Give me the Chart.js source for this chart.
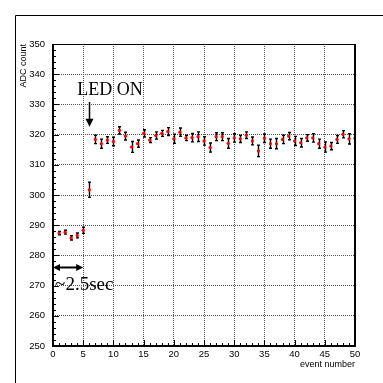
<!DOCTYPE html>
<html>
<head>
<meta charset="utf-8">
<script src="https://cdn.jsdelivr.net/npm/chart.js@4/dist/chart.umd.min.js"></script>
<style>
html,body{margin:0;padding:0;background:#fff;}
canvas{display:block;}
</style>
</head>
<body>
<canvas id="c" width="383" height="383"></canvas>
<script>
// ---- data ----
const eventNumbers = [1,2,3,4,5,6,7,8,9,10,11,12,13,14,15,16,17,18,19,20,21,22,23,24,25,26,27,28,29,30,31,32,33,34,35,36,37,38,39,40,41,42,43,44,45,46,47,48,49,50];
const adcValues = [287.4,287.7,285.8,286.6,288.3,301.7,
  318.4,317.0,318.2,317.7,321.4,319.5,315.9,317.0,320.4,318.2,319.7,320.4,321.0,318.6,
  320.8,318.9,319.0,319.3,317.9,315.7,319.3,319.3,317.1,318.9,318.6,319.8,317.9,314.6,318.8,
  317.0,317.0,318.4,319.5,317.9,317.3,318.9,318.9,317.0,315.9,316.2,318.4,320.1,318.6,318.8];
const adcErrors = [0.55,0.65,0.7,0.8,1.0,2.5,
  1.4,1.5,1.1,1.4,1.2,1.3,1.8,1.2,1.2,0.8,1.2,1.0,1.3,1.5,
  1.4,0.9,1.4,1.6,1.4,1.5,1.3,1.3,1.6,1.4,1.2,1.1,1.3,1.9,1.4,
  1.5,1.7,1.4,1.2,1.5,1.4,1.1,1.4,1.5,1.7,1.2,1.3,1.2,1.7,1.1];
const xTickValues = [0,5,10,15,20,25,30,35,40,45,50];
const yTickValues = [250,260,270,280,290,300,310,320,330,340,350];
const xTitle = 'event number';
const yTitle = 'ADC count';
const ledLabel = 'LED ON';
const durationLabel = '~2.5sec';

const points = eventNumbers.map((x,i)=>({x:x, y:adcValues[i]}));

function arrowHead(ctx, tx, ty, dx, dy, len, half){
  const bx = tx - dx*len, by = ty - dy*len;
  ctx.beginPath();
  ctx.moveTo(tx,ty);
  ctx.lineTo(bx - dy*half, by + dx*half);
  ctx.lineTo(bx + dy*half, by - dx*half);
  ctx.closePath();
  ctx.fill();
}

const rootStyle = {
  id:'rootStyle',
  beforeDraw(chart){
    const ctx = chart.ctx;
    ctx.save();
    ctx.fillStyle = '#fff';
    ctx.fillRect(0,0,chart.width,chart.height);
    ctx.strokeStyle = '#000';
    ctx.lineWidth = 1;
    ctx.beginPath();
    ctx.moveTo(15.5, chart.height);
    ctx.lineTo(15.5, 15.5);
    ctx.lineTo(chart.width, 15.5);
    ctx.stroke();
    ctx.restore();
  },
  beforeDatasetsDraw(chart){
    const ctx = chart.ctx, xs = chart.scales.x, ys = chart.scales.y, a = chart.chartArea;
    ctx.save();
    ctx.beginPath();
    ctx.rect(a.left, a.top, a.right-a.left, a.bottom-a.top);
    ctx.clip();
    ctx.strokeStyle = '#000';
    ctx.lineWidth = 1.4;
    eventNumbers.forEach((x,i)=>{
      const px = Math.round(xs.getPixelForValue(x)) + 0.5;
      const y1 = ys.getPixelForValue(adcValues[i] + adcErrors[i]);
      const y2 = ys.getPixelForValue(adcValues[i] - adcErrors[i]);
      ctx.beginPath();
      ctx.moveTo(px, y1); ctx.lineTo(px, y2);
      ctx.moveTo(px-1.5, y1); ctx.lineTo(px+1.5, y1);
      ctx.moveTo(px-1.5, y2); ctx.lineTo(px+1.5, y2);
      ctx.stroke();
    });
    ctx.restore();
  },
  afterDatasetsDraw(chart){
    const ctx = chart.ctx, xs = chart.scales.x, ys = chart.scales.y, a = chart.chartArea;
    ctx.save();
    // inner ticks
    ctx.strokeStyle = '#000';
    ctx.lineWidth = 1;
    ctx.beginPath();
    for (let v = xs.min; v <= xs.max; v += 1) {
      const px = Math.round(xs.getPixelForValue(v)) + 0.5;
      const len = (v % 5 === 0) ? 6 : 3;
      ctx.moveTo(px, a.bottom); ctx.lineTo(px, a.bottom - len);
    }
    for (let v = ys.min; v <= ys.max; v += 2) {
      const py = Math.round(ys.getPixelForValue(v)) + 0.5;
      const len = (v % 10 === 0) ? 6 : 3;
      ctx.moveTo(a.left, py); ctx.lineTo(a.left + len, py);
    }
    ctx.stroke();
    // frame
    ctx.lineWidth = 2;
    ctx.beginPath();
    ctx.moveTo(a.left, a.top); ctx.lineTo(a.left, a.bottom); ctx.lineTo(a.right, a.bottom); ctx.lineTo(a.right, a.top);
    ctx.stroke();
    ctx.lineWidth = 1;
    ctx.beginPath();
    ctx.moveTo(a.left, a.top + 0.5); ctx.lineTo(a.right, a.top + 0.5);
    ctx.stroke();

    // annotations
    ctx.fillStyle = '#000';
    ctx.textAlign = 'left';
    ctx.textBaseline = 'alphabetic';
    ctx.font = '18px "Liberation Serif", "Times New Roman", serif';
    ctx.fillText(ledLabel, xs.getPixelForValue(4), ys.getPixelForValue(333.1));
    // LED arrow
    const ax = Math.round(xs.getPixelForValue(6)) + 0.5;
    const ay0 = ys.getPixelForValue(330.8), ay1 = ys.getPixelForValue(322.6);
    ctx.lineWidth = 1.5;
    ctx.beginPath(); ctx.moveTo(ax, ay0); ctx.lineTo(ax, ay1 - 6); ctx.stroke();
    arrowHead(ctx, ax, ay1, 0, 1, 8, 4);
    // duration label
    ctx.font = '19px "Liberation Serif", "Times New Roman", serif';
    ctx.fillText(durationLabel, xs.getPixelForValue(0.35), ys.getPixelForValue(268.7));
    // double arrow
    const dy = ys.getPixelForValue(276);
    const dx0 = xs.getPixelForValue(0), dx1 = xs.getPixelForValue(5);
    ctx.lineWidth = 2;
    ctx.beginPath(); ctx.moveTo(dx0 + 5, dy); ctx.lineTo(dx1 - 5, dy); ctx.stroke();
    arrowHead(ctx, dx0, dy, -1, 0, 7, 3.5);
    arrowHead(ctx, dx1, dy, 1, 0, 7, 3.5);
    ctx.restore();
  }
};

new Chart(document.getElementById('c'), {
  type: 'scatter',
  data: {
    datasets: [{
      data: points,
      pointRadius: 1.6,
      pointHoverRadius: 1.6,
      pointBackgroundColor: '#ff0000',
      pointBorderWidth: 0,
      pointBorderColor: '#ff0000',
      showLine: false
    }]
  },
  options: {
    responsive: false,
    animation: false,
    devicePixelRatio: 1,
    events: [],
    layout: { padding: { top: 44, right: 28, left: 0, bottom: 0 } },
    plugins: { legend: { display: false }, tooltip: { enabled: false } },
    scales: {
      x: {
        type: 'linear',
        min: 0, max: 50,
        afterBuildTicks(scale){ scale.ticks = xTickValues.map(v=>({value:v})); },
        afterFit(scale){ scale.height = 37; },
        grid: { color: '#555', lineWidth: 1, drawTicks: false },
        border: { display: false, dash: [1,1] },
        ticks: { color: '#000', padding: 3, maxRotation: 0, autoSkip: false,
                 font: { family: '"Liberation Sans", Arial, sans-serif', size: 9.5 } },
        title: { display: true, text: xTitle, align: 'end', color: '#000',
                 font: { family: '"Liberation Sans", Arial, sans-serif', size: 9 },
                 padding: { top: 0, bottom: 13 } }
      },
      y: {
        type: 'linear',
        min: 250, max: 350,
        afterBuildTicks(scale){ scale.ticks = yTickValues.map(v=>({value:v})); },
        afterFit(scale){ scale.width = 53; },
        grid: { color: '#555', lineWidth: 1, drawTicks: false },
        border: { display: false, dash: [1,1] },
        ticks: { color: '#000', padding: 8, autoSkip: false,
                 font: { family: '"Liberation Sans", Arial, sans-serif', size: 9.5 } },
        title: { display: true, text: yTitle, align: 'end', color: '#000',
                 font: { family: '"Liberation Sans", Arial, sans-serif', size: 9 },
                 padding: { top: 18.5, bottom: 0 } }
      }
    }
  },
  plugins: [rootStyle]
});
</script>
</body>
</html>
